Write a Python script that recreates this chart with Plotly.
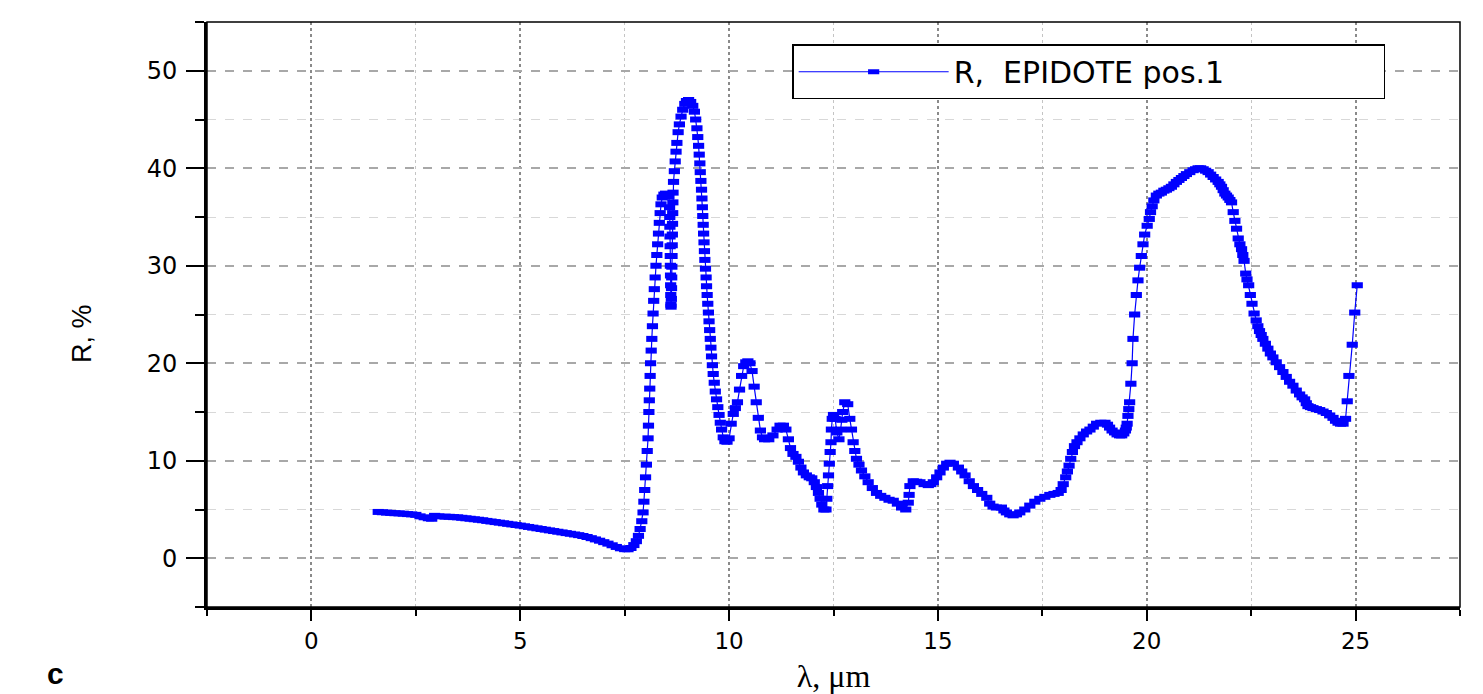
import plotly.graph_objects as go

# Wavelength (µm) and reflectance R (%)
wavelength_um = [
    1.60, 1.70, 1.80, 1.90, 2.00, 2.10, 2.20, 2.30, 2.40, 2.50,
    2.60, 2.70, 2.80, 2.88, 2.95, 3.05, 3.20, 3.30, 3.40, 3.50,
    3.60, 3.70, 3.80, 3.90, 4.00, 4.10, 4.20, 4.30, 4.40, 4.50,
    4.60, 4.70, 4.80, 4.90, 5.00, 5.10, 5.20, 5.30, 5.40, 5.50,
    5.60, 5.70, 5.80, 5.90, 6.00, 6.10, 6.20, 6.30, 6.40, 6.50,
    6.60, 6.70, 6.80, 6.90, 7.00, 7.10, 7.20, 7.30, 7.40, 7.50,
    7.58, 7.65, 7.72, 7.78, 7.83, 7.87, 7.91, 7.94, 7.96, 7.98,
    8.00, 8.02, 8.04, 8.06, 8.07, 8.08, 8.09, 8.10, 8.11, 8.12,
    8.135, 8.15, 8.165, 8.18, 8.195, 8.21, 8.23, 8.25, 8.27, 8.29,
    8.31, 8.33, 8.35, 8.37, 8.40, 8.44, 8.48, 8.52, 8.56,
    8.575, 8.58, 8.583, 8.586, 8.589, 8.592, 8.595, 8.598, 8.601, 8.604, 8.607, 8.61,
    8.618, 8.622, 8.626, 8.630, 8.634, 8.638, 8.642, 8.646, 8.650, 8.654, 8.658,
    8.67, 8.69, 8.71, 8.73, 8.75, 8.78, 8.81, 8.85, 8.89, 8.94, 8.98,
    9.03, 9.08, 9.13, 9.17, 9.20, 9.23, 9.25, 9.27, 9.285, 9.30,
    9.31, 9.325, 9.34, 9.35, 9.36, 9.37, 9.38, 9.39, 9.40, 9.41,
    9.42, 9.435, 9.45, 9.46, 9.475, 9.49, 9.505, 9.52, 9.535, 9.55,
    9.565, 9.58, 9.60, 9.62, 9.645, 9.67, 9.70, 9.73, 9.76, 9.79,
    9.82, 9.86, 9.90, 9.95, 10.00, 10.05, 10.10, 10.15, 10.20, 10.25,
    10.30, 10.35, 10.40, 10.45, 10.50, 10.55, 10.60, 10.65, 10.70, 10.75,
    10.80, 10.85, 10.95, 11.05, 11.15, 11.22, 11.30, 11.36, 11.42, 11.47,
    11.53, 11.60, 11.66, 11.72, 11.78, 11.85, 11.92, 11.98, 12.04, 12.09,
    12.14, 12.18, 12.22, 12.27, 12.32, 12.34, 12.36, 12.38, 12.40, 12.42,
    12.44, 12.45, 12.47, 12.50, 12.54, 12.58, 12.63, 12.67, 12.70, 12.72,
    12.77, 12.84, 12.89, 12.93, 12.97, 13.01, 13.05, 13.11, 13.17, 13.25,
    13.33, 13.43, 13.53, 13.63, 13.73, 13.83, 13.93, 14.03, 14.13, 14.23,
    14.29, 14.31, 14.33, 14.41, 14.49, 14.57, 14.67, 14.77, 14.83, 14.89,
    14.97, 15.05, 15.13, 15.21, 15.29, 15.37, 15.49, 15.57, 15.65, 15.75,
    15.85, 15.95, 16.05, 16.17, 16.24, 16.32, 16.40, 16.52, 16.58, 16.64,
    16.72, 16.80, 16.88, 16.96, 17.08, 17.20, 17.32, 17.44, 17.56, 17.68,
    17.78, 17.88, 17.95, 18.00, 18.06, 18.10, 18.14, 18.18, 18.22, 18.27,
    18.33, 18.40, 18.48, 18.56, 18.64, 18.72, 18.80, 18.90, 19.00, 19.06,
    19.11, 19.17, 19.23, 19.29, 19.35, 19.40, 19.45, 19.49, 19.51, 19.53,
    19.55, 19.57, 19.59, 19.62, 19.65, 19.67, 19.71, 19.75, 19.79, 19.83,
    19.87, 19.91, 19.95, 20.01, 20.06, 20.09, 20.13, 20.17, 20.23, 20.29,
    20.35, 20.41, 20.47, 20.53, 20.59, 20.65, 20.71, 20.77, 20.83, 20.89,
    20.95, 21.03, 21.11, 21.17, 21.23, 21.29, 21.35, 21.41, 21.47, 21.53,
    21.59, 21.65, 21.71, 21.75, 21.79, 21.83, 21.87, 21.91, 21.95, 21.99,
    22.03, 22.07, 22.11, 22.15, 22.19, 22.23, 22.27, 22.30, 22.33, 22.37,
    22.40, 22.44, 22.48, 22.52, 22.57, 22.62, 22.66, 22.70, 22.74, 22.78,
    22.84, 22.90, 22.96, 23.02, 23.10, 23.18, 23.26, 23.34, 23.42, 23.50,
    23.58, 23.66, 23.72, 23.78, 23.82, 23.86, 23.92, 23.98, 24.06, 24.14,
    24.22, 24.30, 24.38, 24.46, 24.52, 24.58, 24.64, 24.70, 24.76, 24.80,
    24.84, 24.92, 24.98, 25.04,
]

reflectance_pct = [
    4.75, 4.72, 4.68, 4.65, 4.62, 4.60, 4.57, 4.53, 4.50, 4.45,
    4.30, 4.20, 4.10, 4.05, 4.35, 4.30, 4.27, 4.25, 4.22, 4.20,
    4.15, 4.10, 4.05, 4.00, 3.95, 3.90, 3.83, 3.77, 3.71, 3.65,
    3.59, 3.53, 3.47, 3.41, 3.35, 3.28, 3.21, 3.14, 3.07, 3.00,
    2.93, 2.86, 2.79, 2.72, 2.65, 2.58, 2.51, 2.44, 2.37, 2.28,
    2.18, 2.06, 1.93, 1.80, 1.65, 1.50, 1.33, 1.16, 1.02, 0.93,
    0.92, 1.05, 1.35, 1.75, 2.30, 3.00, 3.80, 4.70, 5.80, 7.00,
    8.30, 9.60, 11.0, 12.3, 13.6, 15.0, 16.2, 17.4, 18.7, 20.0,
    21.3, 22.5, 23.8, 25.1, 26.4, 27.6, 28.8, 30.0, 31.1, 32.2,
    33.3, 34.4, 35.4, 36.3, 37.0, 37.3, 37.4, 37.3, 37.1,
    36.0, 35.0, 34.0, 33.0, 32.0, 31.0, 30.0, 29.0, 28.0, 27.0, 26.0, 25.8,
    26.6, 27.7, 28.8, 29.9, 31.0, 32.1, 33.2, 34.3, 35.4, 36.5, 37.5,
    38.6, 39.7, 40.7, 41.7, 42.6, 43.7, 44.5, 45.3, 46.0, 46.6, 46.9,
    47.0, 46.8, 46.4, 45.8, 45.0, 44.1, 43.2, 42.3, 41.4, 40.5,
    39.6, 38.7, 37.8, 36.9, 36.0, 35.1, 34.2, 33.3, 32.4, 31.5,
    30.6, 29.7, 28.8, 27.9, 27.0, 26.1, 25.2, 24.3, 23.4, 22.5,
    21.6, 20.7, 19.8, 18.9, 18.0, 17.1, 16.3, 15.5, 14.7, 13.9,
    13.2, 12.4, 12.0, 11.95, 12.3, 13.8, 14.8, 15.4, 16.0, 17.3,
    18.7, 19.7, 20.1, 20.2, 20.0, 19.2, 17.6, 16.0, 14.4, 13.1,
    12.4, 12.2, 12.2, 12.6, 13.2, 13.6, 13.6, 13.2, 12.2, 11.3,
    10.7, 10.4, 9.9, 9.3, 8.8, 8.5, 8.3, 8.2, 7.8, 7.3,
    6.7, 6.1, 5.5, 5.0, 5.0, 6.1, 7.4, 8.5, 9.7, 10.9,
    11.9, 13.2, 14.3, 14.7, 14.3, 12.9, 12.2, 13.2, 14.2, 15.0,
    16.0, 15.8, 14.3, 13.2, 11.9, 11.0, 10.2, 9.6, 9.0, 8.4,
    7.8, 7.2, 6.7, 6.4, 6.2, 6.0, 5.9, 5.6, 5.2, 5.0,
    5.7, 6.5, 7.4, 7.9, 7.85, 7.8, 7.6, 7.5, 7.6, 7.8,
    8.3, 8.8, 9.3, 9.7, 9.8, 9.7, 9.3, 8.9, 8.5, 7.9,
    7.4, 7.0, 6.6, 6.2, 5.6, 5.3, 5.2, 5.2, 4.9, 4.7,
    4.5, 4.4, 4.5, 4.7, 5.0, 5.4, 5.8, 6.1, 6.3, 6.5,
    6.6, 6.7, 7.0, 7.6, 8.3, 8.9, 9.5, 10.2, 10.9, 11.5,
    11.9, 12.3, 12.7, 13.0, 13.2, 13.5, 13.8, 13.9, 13.9, 13.7,
    13.4, 13.1, 12.9, 12.7, 12.6, 12.6, 12.8, 13.1, 13.4, 13.8,
    14.6, 15.3, 16.0, 17.9, 20.0, 22.5, 25.0, 27.0, 28.5, 29.8,
    31.0, 32.2, 33.2, 34.1, 34.8, 35.5, 36.1, 36.7, 37.2, 37.4,
    37.5, 37.7, 37.8, 37.95, 38.1, 38.35, 38.6, 38.8, 39.0, 39.2,
    39.4, 39.6, 39.8, 39.9, 40.0, 40.0, 39.9, 39.75, 39.6, 39.35,
    39.1, 38.85, 38.6, 38.35, 38.1, 37.75, 37.4, 37.2, 37.0, 36.75,
    36.5, 35.5, 34.6, 33.8, 32.8, 32.2, 31.7, 31.1, 30.5, 29.2,
    28.6, 28.0, 27.0, 26.1, 25.1, 24.4, 23.8, 23.3, 22.9, 22.5,
    22.0, 21.5, 21.0, 20.6, 20.1, 19.6, 19.1, 18.6, 18.1, 17.7,
    17.2, 16.8, 16.5, 16.3, 15.9, 15.6, 15.5, 15.4, 15.3, 15.2,
    15.05, 14.9, 14.65, 14.4, 14.1, 13.9, 13.8, 13.8, 14.3, 16.1,
    18.7, 21.9, 25.2, 28.0,
]

series_name = "R,\u00a0 EPIDOTE pos.1"
x_title = "λ, μm"
y_title = "R, %"
panel_letter = "c"

BLUE = "#0000ff"

fig = go.Figure()
fig.add_trace(go.Scatter(
    x=wavelength_um,
    y=reflectance_pct,
    mode="lines+markers",
    name=series_name,
    line=dict(color=BLUE, width=1.2),
    marker=dict(symbol="line-ew", size=8, color=BLUE,
                line=dict(color=BLUE, width=6)),
))

fig.add_shape(type="rect", xref="paper", yref="paper", x0=0, x1=1, y0=0, y1=1,
              line=dict(color="black", width=1.5), layer="above")

# y-axis title, placed slightly below the plot's middle as in the reference
fig.add_annotation(text=y_title, xref="paper", yref="paper",
                   x=-0.0997, y=0.467, xanchor="center", yanchor="middle",
                   textangle=-90, showarrow=False,
                   font=dict(family="Liberation Sans", size=27, color="black"))

# small panel letter in the lower-left corner (kept fully inside the page)
fig.add_annotation(text=panel_letter, xref="paper", yref="paper",
                   x=-0.1213, y=-0.146, xanchor="center", yanchor="bottom",
                   showarrow=False,
                   font=dict(family="Liberation Sans", size=30, color="black",
                             weight="bold"))

fig.update_layout(
    width=1483, height=694,
    margin=dict(l=207, r=23, t=22, b=87, autoexpand=False),
    plot_bgcolor="white", paper_bgcolor="white",
    showlegend=True,
    legend=dict(
        x=0.467, y=0.962, xanchor="left", yanchor="top",
        orientation="h", entrywidth=425, entrywidthmode="pixels",
        itemwidth=150,
        bgcolor="white", bordercolor="black", borderwidth=1.5,
        font=dict(family="DejaVu Sans", size=30, color="black"),
    ),
    xaxis=dict(
        range=[-2.5, 27.5], tickmode="linear", tick0=0, dtick=5,
        automargin=False,
        ticks="outside", ticklen=11, tickwidth=2, tickcolor="black",
        showline=True, linecolor="black", linewidth=3, zeroline=False,
        showgrid=True, gridcolor="#8a8a8a", griddash="dot", gridwidth=1.5,
        minor=dict(dtick=2.5, ticks="outside", ticklen=6, tickwidth=2,
                   tickcolor="black", showgrid=True, gridcolor="#c4c4c4",
                   griddash="dot", gridwidth=1),
        tickfont=dict(family="DejaVu Sans", size=23, color="black"),
        ticklabelstandoff=0,
        title=dict(text=x_title, standoff=21,
                   font=dict(family="Liberation Serif", size=32, color="black")),
    ),
    yaxis=dict(
        range=[-5, 55], tickmode="linear", tick0=0, dtick=10,
        automargin=False,
        ticks="outside", ticklen=18, tickwidth=2, tickcolor="black",
        showline=True, linecolor="black", linewidth=3, zeroline=False,
        showgrid=True, gridcolor="#a8a8a8", griddash="dash", gridwidth=1.5,
        minor=dict(dtick=5, ticks="outside", ticklen=9, tickwidth=2,
                   tickcolor="black", showgrid=True, gridcolor="#d8d8d8",
                   griddash="dash", gridwidth=1),
        tickfont=dict(family="DejaVu Sans", size=24, color="black"),
        ticklabelstandoff=4,
    ),
)

fig.write_html("out.html")
